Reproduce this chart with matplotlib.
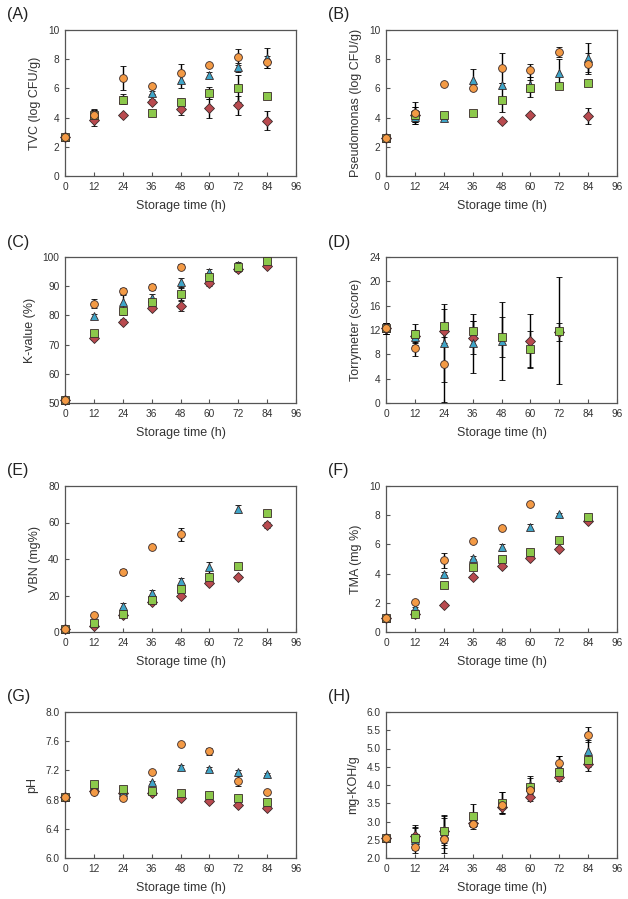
import numpy as np
import matplotlib
matplotlib.use("Agg")
import matplotlib.pyplot as plt

plt.rcParams.update({
    "font.family": ["Liberation Sans", "DejaVu Sans"],
    "axes.edgecolor": "#555555",
    "xtick.color": "#555555",
    "ytick.color": "#555555",
    "xtick.labelcolor": "#333333",
    "ytick.labelcolor": "#333333",
})

nan = np.nan
TIME = [0, 12, 24, 36, 48, 60, 72, 84]
XTICKS = [0, 12, 24, 36, 48, 60, 72, 84, 96]

# (A) TVC
tvc_or = [2.7, 4.2, 6.7, 6.15, 7.05, 7.6, 8.15, 7.8]
tvc_or_err = [0.1, 0.3, 0.8, 0.1, 0.6, 0.1, 0.55, 0.4]
tvc_cy = [2.7, 4.3, 5.3, 5.7, 6.6, 6.9, 7.45, 8.1]
tvc_cy_err = [0.1, 0.3, 0.3, 0.1, 0.6, 0.2, 0.3, 0.7]
tvc_gr = [2.7, 4.2, 5.2, 4.3, 5.05, 5.7, 6.0, 5.45]
tvc_gr_err = [0.1, 0.3, 0.3, 0.1, 0.1, 0.4, 0.9, 0.1]
tvc_rd = [2.7, 3.85, 4.15, 5.1, 4.6, 4.65, 4.85, 3.8]
tvc_rd_err = [0.1, 0.45, 0.1, 0.2, 0.4, 0.65, 0.65, 0.65]

# (B) Pseudomonas
pse_or = [2.6, 4.3, 6.3, 6.0, 7.4, 7.25, 8.5, 7.7]
pse_or_err = [0.1, 0.75, 0.1, 0.1, 1.0, 0.45, 0.35, 0.7]
pse_cy = [2.6, 4.05, 4.0, 6.6, 6.2, 6.25, 7.05, 8.1]
pse_cy_err = [0.1, 0.5, 0.1, 0.7, 0.2, 0.5, 0.95, 1.0]
pse_gr = [2.6, 4.2, 4.2, 4.3, 5.2, 6.0, 6.15, 6.4]
pse_gr_err = [0.1, 0.5, 0.1, 0.1, 0.8, 0.6, 0.1, 0.1]
pse_rd = [2.6, 4.2, nan, nan, 3.75, 4.15, nan, 4.1]
pse_rd_err = [0.1, 0.5, 0, 0, 0.1, 0.1, 0, 0.55]

# (C) K-value
kv_or = [51, 84, 88.5, 89.6, 96.7, nan, nan, nan]
kv_or_err = [1, 1.5, 1, 1, 0.8, 0, 0, 0]
kv_cy = [51, 79.8, 84.5, 85.8, 91.3, 95, 97.3, nan]
kv_cy_err = [1, 0.8, 2.5, 1.5, 1.5, 1, 1, 0]
kv_gr = [51, 74, 81.5, 84.5, 87.4, 93, 96.5, 98.8]
kv_gr_err = [1, 1, 1.2, 1.2, 2, 1.2, 1, 1]
kv_rd = [51, 72.3, 77.8, 82.7, 83.2, 91, 95.8, 97]
kv_rd_err = [1, 0.8, 0.8, 1, 1.8, 1, 1, 0.8]

# (D) Torrymeter
tor_or = [12.3, 9.1, 6.4, nan, nan, nan, nan, nan]
tor_or_err = [0.9, 1.3, 6.2, 0, 0, 0, 0, 0]
tor_cy = [12.3, 10.8, 9.9, 9.8, 10.2, nan, nan, nan]
tor_cy_err = [0.9, 1.2, 6.4, 4.9, 6.4, 0, 0, 0]
tor_gr = [12.3, 11.4, 12.6, 11.9, 10.8, 8.9, 11.9, nan]
tor_gr_err = [0.9, 1.6, 2.8, 1.5, 3.3, 3.0, 8.8, 0]
tor_rd = [12.3, 11.0, 11.9, 10.7, nan, 10.2, 11.7, nan]
tor_rd_err = [0.9, 1.0, 1.0, 2.7, 0, 4.4, 1.5, 0]

# (E) VBN
vbn_or = [1.8, 9.1, 33, 46.8, 53.5, nan, nan, nan]
vbn_or_err = [0.5, 0.8, 1.5, 0.8, 3.6, 0, 0, 0]
vbn_cy = [1.8, 5.5, 14.4, 21.3, 27.7, 35.5, 67.6, nan]
vbn_cy_err = [0.5, 1, 1.5, 1.5, 1.8, 3, 2, 0]
vbn_gr = [1.8, 5, 9.8, 17.8, 23.7, 30.2, 36.2, 65]
vbn_gr_err = [0.5, 0.8, 1, 1, 1.5, 1.5, 1, 1.5]
vbn_rd = [1.8, 3.5, 9.1, 16.2, 19.5, 26.6, 30.1, 58.7]
vbn_rd_err = [0.5, 0.8, 0.8, 1, 1, 1, 1, 1.5]

# (F) TMA
tma_or = [0.96, 2.07, 4.9, 6.2, 7.1, 8.79, nan, nan]
tma_or_err = [0.05, 0.1, 0.5, 0.1, 0.1, 0.1, 0, 0]
tma_cy = [0.96, 1.64, 3.99, 5.1, 5.8, 7.2, 8.06, nan]
tma_cy_err = [0.05, 0.1, 0.1, 0.1, 0.25, 0.2, 0.1, 0]
tma_gr = [0.96, 1.25, 3.19, 4.42, 4.99, 5.51, 6.29, 7.9]
tma_gr_err = [0.05, 0.1, 0.1, 0.1, 0.1, 0.1, 0.1, 0.1]
tma_rd = [0.96, 1.2, 1.87, 3.78, 4.49, 5.1, 5.69, 7.63]
tma_rd_err = [0.05, 0.1, 0.1, 0.1, 0.1, 0.1, 0.1, 0.1]

# (G) pH
ph_or = [6.84, 6.90, 6.82, 7.18, 7.56, 7.46, 7.06, 6.90]
ph_or_err = [0.01, 0.02, 0.02, 0.01, 0.01, 0.05, 0.07, 0.02]
ph_cy = [6.84, 7.0, 6.9, 7.04, 7.24, 7.22, 7.18, 7.15]
ph_cy_err = [0.01, 0.02, 0.02, 0.02, 0.04, 0.02, 0.02, 0.01]
ph_gr = [6.84, 7.02, 6.95, 6.92, 6.89, 6.86, 6.82, 6.77]
ph_gr_err = [0.01, 0.02, 0.02, 0.02, 0.02, 0.02, 0.02, 0.02]
ph_rd = [6.84, 6.92, 6.89, 6.89, 6.82, 6.78, 6.72, 6.68]
ph_rd_err = [0.01, 0.02, 0.02, 0.02, 0.02, 0.02, 0.02, 0.02]

# (H) acid value
koh_or = [2.55, 2.31, 2.51, 2.94, 3.45, 3.86, 4.6, 5.38]
koh_or_err = [0.03, 0.1, 0.15, 0.1, 0.1, 0.1, 0.2, 0.2]
koh_cy = [2.55, 2.48, 2.65, 3.0, 3.5, 4.0, 4.5, 4.94]
koh_cy_err = [0.03, 0.35, 0.5, 0.1, 0.3, 0.2, 0.3, 0.3]
koh_gr = [2.55, 2.55, 2.73, 3.14, 3.52, 3.94, 4.36, 4.69]
koh_gr_err = [0.03, 0.3, 0.45, 0.35, 0.3, 0.3, 0.1, 0.2]
koh_rd = [2.55, 2.6, 2.75, 2.95, 3.39, 3.67, 4.22, 4.58]
koh_rd_err = [0.03, 0.3, 0.35, 0.1, 0.15, 0.1, 0.1, 0.2]

# drawing order: red diamond at bottom, orange circle on top
STYLES = [
    ("D", "#b94a4f", 4.6),
    ("^", "#3fa5c8", 5.2),
    ("s", "#8cc84b", 5.2),
    ("o", "#f39a45", 5.6),
]

PANELS = [
    ("(A)", "TVC (log CFU/g)", (0, 10), [0, 2, 4, 6, 8, 10], None,
     [(tvc_rd, tvc_rd_err), (tvc_cy, tvc_cy_err), (tvc_gr, tvc_gr_err), (tvc_or, tvc_or_err)]),
    ("(B)", "Pseudomonas (log CFU/g)", (0, 10), [0, 2, 4, 6, 8, 10], None,
     [(pse_rd, pse_rd_err), (pse_cy, pse_cy_err), (pse_gr, pse_gr_err), (pse_or, pse_or_err)]),
    ("(C)", "K-value (%)", (50, 100), [50, 60, 70, 80, 90, 100], None,
     [(kv_rd, kv_rd_err), (kv_cy, kv_cy_err), (kv_gr, kv_gr_err), (kv_or, kv_or_err)]),
    ("(D)", "Torrymeter (score)", (0, 24), [0, 4, 8, 12, 16, 20, 24], None,
     [(tor_rd, tor_rd_err), (tor_cy, tor_cy_err), (tor_gr, tor_gr_err), (tor_or, tor_or_err)]),
    ("(E)", "VBN (mg%)", (0, 80), [0, 20, 40, 60, 80], None,
     [(vbn_rd, vbn_rd_err), (vbn_cy, vbn_cy_err), (vbn_gr, vbn_gr_err), (vbn_or, vbn_or_err)]),
    ("(F)", "TMA (mg %)", (0, 10), [0, 2, 4, 6, 8, 10], None,
     [(tma_rd, tma_rd_err), (tma_cy, tma_cy_err), (tma_gr, tma_gr_err), (tma_or, tma_or_err)]),
    ("(G)", "pH", (6.0, 8.0), [6.0, 6.4, 6.8, 7.2, 7.6, 8.0], "{:.1f}",
     [(ph_rd, ph_rd_err), (ph_cy, ph_cy_err), (ph_gr, ph_gr_err), (ph_or, ph_or_err)]),
    ("(H)", "mg-KOH/g", (2.0, 6.0), [2.0, 2.5, 3.0, 3.5, 4.0, 4.5, 5.0, 5.5, 6.0], "{:.1f}",
     [(koh_rd, koh_rd_err), (koh_cy, koh_cy_err), (koh_gr, koh_gr_err), (koh_or, koh_or_err)]),
]

W, H = 628, 899
LEFTS = [65, 386]
TOPS = [30, 257, 486, 712]
AX_W, AX_H = 231, 146

fig = plt.figure(figsize=(W / 100, H / 100), dpi=100)

for i, (tag, ylabel, ylim, yticks, fmt, series) in enumerate(PANELS):
    row, col = divmod(i, 2)
    left = LEFTS[col]
    top = TOPS[row]
    ax = fig.add_axes([left / W, 1 - (top + AX_H) / H, AX_W / W, AX_H / H])

    for (vals, errs), (marker, color, ms) in zip(series, STYLES):
        ax.errorbar(TIME, vals, yerr=errs, fmt=marker, color=color, ms=ms,
                    mec="#3a2a2a", mew=0.6, ecolor="black", elinewidth=1.0,
                    capsize=2.5, capthick=0.9, clip_on=False, zorder=3)

    ax.set_xlim(0, 96)
    ax.set_ylim(*ylim)
    ax.set_xticks(XTICKS)
    ax.set_yticks(yticks)
    if fmt:
        ax.set_yticklabels([fmt.format(v) for v in yticks])
    ax.tick_params(direction="in", length=3, width=0.8, labelsize=7.3, pad=4)
    for sp in ax.spines.values():
        sp.set_linewidth(0.9)
    ax.set_xlabel("Storage time (h)", fontsize=9, color="#333333", labelpad=6)
    ax.set_ylabel(ylabel, fontsize=9, color="#333333", labelpad=5)
    fig.text((left - 58) / W, 1 - (top - 15) / H, tag, fontsize=11.5,
             ha="left", va="center", color="#222222")

fig.savefig("out.png", dpi=100)
